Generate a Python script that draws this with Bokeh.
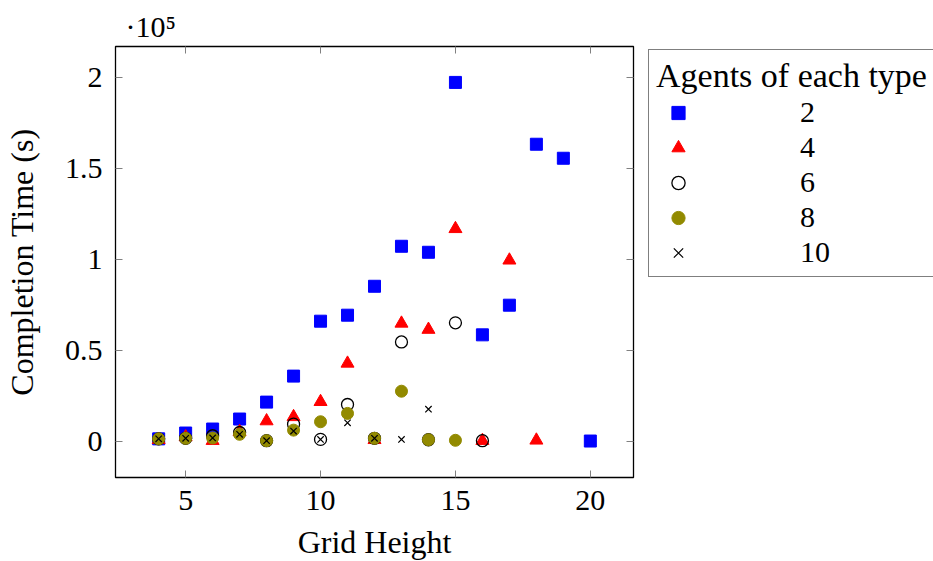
from bokeh.plotting import figure
from bokeh.layouts import row
from bokeh.models import (Range1d, LinearAxis, FixedTicker, Legend, LegendItem,
                          Title)
from bokeh.embed import file_html
from bokeh.resources import INLINE

# ---- data ----
x_a2 = [4, 5, 6, 7, 8, 9, 10, 11, 12, 13, 14, 15, 16, 17, 18, 19, 20]
y_a2 = [1500, 4700, 6900, 12400, 21700, 36000, 66200, 69500, 85400, 107400,
        104100, 197500, 58700, 75000, 163500, 155800, 300]

x_a4 = [4, 5, 6, 7, 8, 9, 10, 11, 12, 13, 14, 15, 16, 17, 18]
y_a4 = [1000, 2500, 500, 5400, 11300, 13600, 21900, 43000, 1000, 65000,
        61600, 117000, 500, 99700, 700]

x_a6 = [4, 5, 6, 7, 8, 9, 10, 11, 12, 13, 14, 15, 16]
y_a6 = [1500, 1800, 3200, 5000, 500, 9600, 1200, 20400, 1800, 54800, 1000,
        65300, 500]

x_a8 = [4, 5, 6, 7, 8, 9, 10, 11, 12, 13, 14, 15]
y_a8 = [1500, 1800, 2000, 4000, 500, 6300, 10900, 15500, 1800, 27700, 1000, 700]

x_a10 = [4, 5, 6, 7, 8, 9, 10, 11, 12, 13, 14]
y_a10 = [1500, 1800, 2000, 4000, 500, 5800, 1200, 10300, 1800, 1200, 17800]

series_labels = ["2", "4", "6", "8", "10"]
legend_title = "Agents of each type"
x_ticks = [5, 10, 15, 20]
y_ticks = [0, 50000, 100000, 150000, 200000]
y_tick_labels = ["0", "0.5", "1", "1.5", "2"]
scale_label = "·10⁵"

FONT = "Liberation Serif"
TICK_COLOR = "#808080"

# marker styles per series
styles = [
    dict(marker="square", size=12, fill_color="#0000ff", line_color="#0000ff"),
    dict(marker="triangle", size=13, fill_color="#ff0000", line_color="#ff0000"),
    dict(marker="circle", size=12, fill_color=None, line_color="black", line_width=1.3),
    dict(marker="circle", size=12, fill_color="#928a00", line_color="#928a00"),
    dict(marker="x", size=9, line_color="black", line_width=1.2),
]

p = figure(frame_width=518, frame_height=431,
           min_border_left=114, min_border_right=2,
           min_border_top=46, min_border_bottom=84,
           x_range=Range1d(2.4, 21.6), y_range=Range1d(-19750, 217250),
           output_backend="svg", toolbar_location=None)
p.xgrid.visible = False
p.ygrid.visible = False
p.outline_line_color = "black"
p.outline_line_width = 1.3
p.background_fill_color = "white"
p.border_fill_color = "white"

def style_axis(ax, labels=True):
    ax.axis_line_color = None
    ax.major_tick_in = 7
    ax.major_tick_out = 0
    ax.minor_tick_line_color = None
    ax.major_tick_line_color = TICK_COLOR
    ax.major_tick_line_width = 1
    ax.major_label_text_font = FONT
    ax.major_label_text_font_size = "30px" if labels else "1px"
    ax.major_label_text_color = "black" if labels else None
    ax.axis_label_text_font = FONT
    ax.axis_label_text_font_size = "32px"
    ax.axis_label_text_font_style = "normal"
    ax.axis_label_text_color = "black"

xax = p.xaxis[0]
yax = p.yaxis[0]
xax.ticker = FixedTicker(ticks=x_ticks)
yax.ticker = FixedTicker(ticks=y_ticks)
yax.major_label_overrides = {t: l for t, l in zip(y_ticks, y_tick_labels)}
style_axis(xax)
style_axis(yax)
xax.axis_label = "Grid Height"
yax.axis_label = "Completion Time (s)"
xax.major_label_standoff = 13
xax.axis_label_standoff = 11
yax.major_label_standoff = 13
yax.axis_label_standoff = 22

top_ax = LinearAxis(ticker=FixedTicker(ticks=x_ticks))
right_ax = LinearAxis(ticker=FixedTicker(ticks=y_ticks))
style_axis(top_ax, labels=False)
style_axis(right_ax, labels=False)
top_ax.major_label_standoff = 0
right_ax.major_label_standoff = 0
p.add_layout(top_ax, "above")
p.add_layout(right_ax, "right")

p.add_layout(Title(text=scale_label, align="left", offset=10,
                   text_font=FONT, text_font_size="30px",
                   text_font_style="normal", text_color="black",
                   standoff=7), "above")

xs = [x_a2, x_a4, x_a6, x_a8, x_a10]
ys = [y_a2, y_a4, y_a6, y_a8, y_a10]
for xv, yv, st in zip(xs, ys, styles):
    p.scatter(xv, yv, **st)

# ---- legend panel (separate canvas to the right of the plot) ----
p_width = 114 + 518 + 2
leg_fig = figure(width=933 - p_width, height=561,
                 min_border=0, x_axis_type=None, y_axis_type=None,
                 x_range=Range1d(0, 1), y_range=Range1d(0, 1),
                 output_backend="svg", toolbar_location=None)
leg_fig.xgrid.visible = False
leg_fig.ygrid.visible = False
leg_fig.outline_line_color = None
leg_fig.background_fill_color = "white"
leg_fig.border_fill_color = "white"

# legend-only renderers: one undrawn (NaN) point each, styled like the series
leg_renderers = [leg_fig.scatter([float("nan")], [float("nan")], **st)
                 for st in styles]
items = [LegendItem(label=lab, renderers=[r])
         for lab, r in zip(series_labels, leg_renderers)]
legend = Legend(items=items, title=legend_title,
                location=(13, 199),
                title_text_font=FONT, title_text_font_size="34px",
                title_text_font_style="normal", title_text_color="black",
                title_standoff=0,
                label_text_font=FONT, label_text_font_size="30px",
                label_text_color="black",
                glyph_width=44, glyph_height=33, label_height=33,
                label_standoff=100, spacing=1, padding=7,
                border_line_color="black", border_line_width=1.2,
                background_fill_color="white")
leg_fig.add_layout(legend, "center")

layout = row(p, leg_fig, spacing=0)
open("out.html", "w").write(file_html(layout, INLINE))
